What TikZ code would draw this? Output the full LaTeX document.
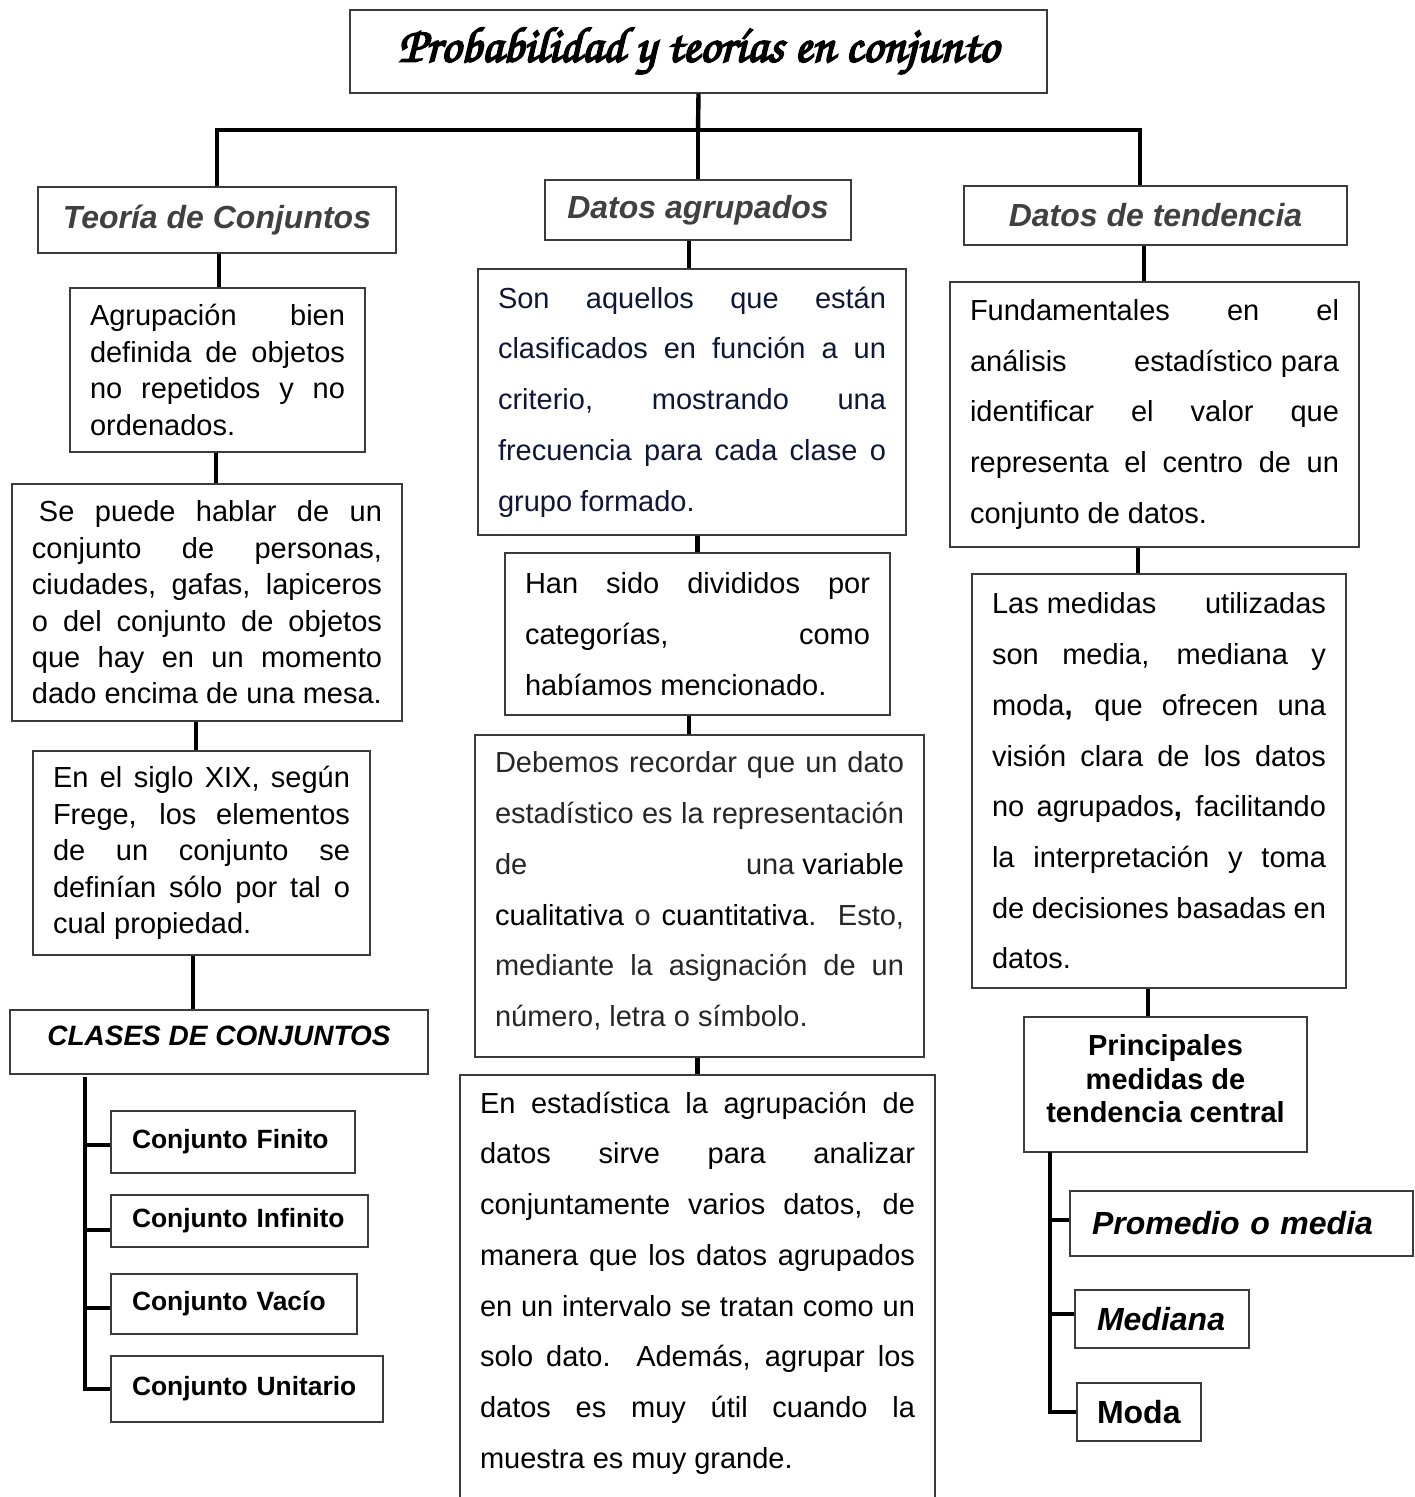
\documentclass[tikz,border=0pt]{standalone}
\usepackage[T1]{fontenc}
\usepackage{fontspec}
\setmainfont{Liberation Sans}
\usepackage{tikz}
\definecolor{boxline}{RGB}{60,60,60}
\definecolor{headgray}{RGB}{64,64,64}
\definecolor{navytext}{RGB}{14,23,56}
\definecolor{bodygray}{RGB}{38,38,38}
\tikzstyle{block} = [draw=boxline,line width=0.6pt,rectangle,inner xsep=10pt,inner ysep=0pt,align=justify]
\tikzstyle{narrow} = [font=\fontsize{14.5}{18.2}\selectfont]
\tikzstyle{wide} = [font=\fontsize{14.5}{25.35}\selectfont]
\tikzstyle{maintitle} = [draw=boxline,line width=0.6pt,rectangle,minimum width=348.5pt,minimum height=41.5pt]
\tikzstyle{heading} = [draw=boxline,line width=0.6pt,rectangle,inner sep=0pt,text=headgray,font=\fontsize{16}{19}\selectfont\bfseries\itshape]
\tikzstyle{leaf} = [draw=boxline,line width=0.6pt,rectangle,inner xsep=10.5pt,inner ysep=0pt,align=left,font=\fontsize{13.2}{16}\selectfont\bfseries]
\tikzstyle{measure} = [draw=boxline,line width=0.6pt,rectangle,inner xsep=11pt,inner ysep=0pt,align=left,font=\fontsize{16}{19}\selectfont\bfseries]
\tikzstyle{link} = [line width=2.2pt]

\begin{document}
\begin{tikzpicture}[x=0.5pt,y=-0.5pt]
    \useasboundingbox (0,0) rectangle (1414,1497);
    % title and the three branches
    \node[maintitle] (title) at (698.5,51.5)
      {\fontsize{25}{27}\usefont{T1}{pzc}{mb}{it}\special{pdf:literal direct 2 Tr 0.9 w}Probabilidad y teor\'{\i}as en conjunto\special{pdf:literal direct 0 Tr}};
    \node[heading,minimum width=179pt,minimum height=33pt] (tc) at (217,220) {Teoría de Conjuntos};
    \node[heading,minimum width=153pt,minimum height=30pt] (da) at (698,210) {Datos agrupados};
    \node[heading,minimum width=191.5pt,minimum height=29.5pt] (dt) at (1155.5,215.5) {Datos de tendencia};

    % left column
    \node[block,narrow,text width=127.5pt,minimum height=82pt] (agr) at (217.5,370)
      {Agrupación bien\linebreak definida de objetos\linebreak no repetidos y no\linebreak ordenados.};
    \node[block,narrow,text width=175pt,minimum height=118.5pt] (se) at (207,602.5)
      {\hspace{3.5pt}Se puede hablar de un\linebreak conjunto de personas,\linebreak ciudades, gafas, lapiceros\linebreak
       o del conjunto de objetos\linebreak que hay en un momento\linebreak dado encima de una mesa.};
    \node[block,narrow,text width=148.5pt,minimum height=102pt] (siglo) at (201.5,853)
      {En el siglo XIX, según\linebreak Frege, los elementos\linebreak de un conjunto se\linebreak
       definían sólo por tal o\linebreak cual propiedad.};
    \node[heading,text=black,font=\fontsize{14}{17}\selectfont\bfseries\itshape,text depth=6pt,
          minimum width=209pt,minimum height=32pt] (clases) at (219,1042) {CLASES DE CONJUNTOS};
    \node[leaf,text width=101pt,minimum height=31pt] (fin) at (233,1142) {Conjunto Finito};
    \node[leaf,text width=107.5pt,minimum height=26pt] (inf) at (239.5,1221) {Conjunto Infinito};
    \node[leaf,text width=102pt,minimum height=30pt] (vac) at (234,1304) {Conjunto Vacío};
    \node[leaf,text width=115pt,minimum height=33pt] (uni) at (247,1389) {Conjunto Unitario};

    % middle column
    \node[block,wide,text=navytext,text width=194pt,minimum height=133pt] (son) at (692,402)
      {Son aquellos que están\linebreak clasificados en función a un\linebreak criterio, mostrando una\linebreak
       frecuencia para cada clase o\linebreak grupo formado.};
    \node[block,wide,text width=172.5pt,minimum height=81pt] (han) at (697.5,634)
      {Han sido divididos por\linebreak categorías, como\linebreak habíamos mencionado.};
    \node[block,wide,text=bodygray,text width=204.5pt,minimum height=161pt] (deb) at (699.5,896)
      {Debemos recordar que un dato\linebreak estadístico es la representación\linebreak
       de\hfill una {\color{black}variable}\linebreak {\color{black}cualitativa} o {\color{black}cuantitativa}.\ \ Esto,\linebreak
       mediante la asignación de un\linebreak número, letra o símbolo.\par\kern5pt\hrule height 0pt};
    \node[block,wide,text width=217.5pt,minimum height=230pt] (est) at (697.5,1305)
      {En estadística la agrupación de\linebreak datos sirve para analizar\linebreak conjuntamente varios datos, de\linebreak
       manera que los datos agrupados\linebreak en un intervalo se tratan como un\linebreak solo dato. Además, agrupar los\linebreak
       datos es muy útil cuando la\linebreak muestra es muy grande.\par\kern22pt\hrule height 0pt};

    % right column
    \node[block,wide,text width=184.5pt,minimum height=132.5pt] (fund) at (1154.5,414.5)
      {Fundamentales en el\linebreak análisis\hfill estadístico~para\linebreak identificar el valor que\linebreak
       representa el centro de un\linebreak conjunto de datos.};
    \node[block,wide,text width=167pt,minimum height=207pt] (las) at (1159,781)
      {Las~medidas\hfill utilizadas\linebreak son media, mediana y\linebreak moda{\bfseries,} que ofrecen una\linebreak
       visión clara de los~datos\linebreak no agrupados{\bfseries,} facilitando\linebreak la interpretación y toma\linebreak
       de decisiones basadas en\linebreak datos.};
    \node[draw=boxline,line width=0.6pt,inner sep=0pt,align=center,font=\fontsize{14.5}{16.75}\selectfont\bfseries,
          minimum width=141.5pt,minimum height=67.5pt] (prin) at (1165.5,1084.5)
      {Principales\\ medidas de\\ tendencia central\\[-10.75pt]};
    \node[measure,font=\fontsize{16}{19}\selectfont\bfseries\itshape,text width=149.5pt,minimum height=32.5pt] (prom) at (1241.5,1223.5) {Promedio o media};
    \node[measure,font=\fontsize{16}{19}\selectfont\bfseries\itshape,text width=65pt,minimum height=29pt] (med) at (1162,1319) {Mediana};
    \node[measure,inner xsep=10pt,text width=42pt,minimum height=29pt] (moda) at (1139,1412) {Moda};

    % now link the nodes
    \coordinate (hub) at (698,130);
    \draw[link] (title.south) -- (hub);
    \draw[link] (tc.north) |- (hub) -| ([xshift=-7.75pt]dt.north);
    \draw[link] (hub) -- (da.north);

    \draw[link] ([xshift=1pt]tc.south) -- ([xshift=1pt]tc.south |- agr.north);
    \draw[link] ([xshift=-0.75pt]agr.south) -- ([xshift=-0.75pt]agr.south |- se.north);
    \draw[link] ([xshift=-2.75pt]siglo.north) -- ([xshift=-2.75pt]siglo.north |- se.south);
    \draw[link] ([xshift=-4.25pt]siglo.south) -- ([xshift=-4.25pt]siglo.south |- clases.north);

    \draw[link] ([xshift=-4.5pt]da.south) -- ([xshift=-4.5pt]da.south |- son.north);
    \draw[link] (han.north) -- (han.north |- son.south);
    \draw[link] ([xshift=-4.25pt]han.south) -- ([xshift=-4.25pt]han.south |- deb.north);
    \draw[link] (est.north) -- (est.north |- deb.south);

    \draw[link] ([xshift=-5.25pt]fund.north) -- ([xshift=-5.25pt]fund.north |- dt.south);
    \draw[link] ([xshift=-8.25pt]fund.south) -- ([xshift=-8.25pt]fund.south |- las.north);
    \draw[link] ([xshift=-5.5pt]las.south) -- ([xshift=-5.5pt]las.south |- prin.north);

    % the two lists
    \coordinate (ctop) at (85,1077);
    \draw[link] (ctop) |- (uni.west);
    \draw[link] ([yshift=-1.5pt]fin.west) -- ([yshift=-1.5pt]fin.west -| ctop);
    \draw[link] ([yshift=-4.5pt]inf.west) -- ([yshift=-4.5pt]inf.west -| ctop);
    \draw[link] ([yshift=-2pt]vac.west) -- ([yshift=-2pt]vac.west -| ctop);

    \coordinate (ptop) at (1050,1152);
    \draw[link] (ptop) |- (moda.west);
    \draw[link] ([yshift=1.75pt]prom.west) -- ([yshift=1.75pt]prom.west -| ptop);
    \draw[link] ([yshift=2.5pt]med.west) -- ([yshift=2.5pt]med.west -| ptop);
\end{tikzpicture}
\end{document}
